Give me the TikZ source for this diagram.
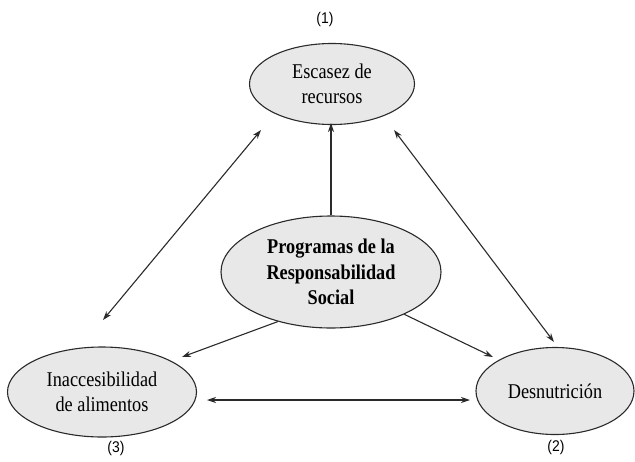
\documentclass[tikz,border=0pt]{standalone}
\usepackage{fontspec}
\usetikzlibrary{shapes.geometric,arrows.meta}
\newfontfamily\boxfont{Liberation Serif}[FakeStretch=0.87]
\newfontfamily\numfont{Liberation Sans}[FakeStretch=0.9]
\definecolor{bubblefill}{HTML}{E8E8E8}
\definecolor{inkline}{HTML}{2A2A2A}
\tikzset{
  bubble/.style={ellipse, draw=inkline, line width=1.1pt, fill=bubblefill,
    inner sep=0pt, align=center, text=black,
    font=\boxfont\fontsize{21}{25.5}\selectfont},
  tag/.style={inner sep=0pt, font=\numfont\fontsize{15.5}{17}\selectfont},
  link/.style={draw=inkline, line width=1.1pt,
    arrows={-Stealth[length=9pt,width=6pt]}},
  twoway/.style={draw=inkline, line width=1.1pt,
    arrows={Stealth[length=9pt,width=6pt]-Stealth[length=9pt,width=6pt]}}
}
\begin{document}
\begin{tikzpicture}[x=1pt,y=-1pt]
\useasboundingbox (0,0) rectangle (635,461);

% the four ellipses
\node[bubble, minimum width=165pt, minimum height=81pt] (scarce) at (332,84) {Escasez de\\recursos};
\node[bubble, minimum width=220pt, minimum height=112pt] (csr) at (331,272) {\bfseries Programas de la\\\bfseries Responsabilidad\\\bfseries Social};
\node[bubble, minimum width=189pt, minimum height=90pt] (access) at (102,392) {Inaccesibilidad\\de alimentos};
\node[bubble, minimum width=158pt, minimum height=87pt] (hunger) at (555,391) {Desnutrición};

% numbering
\node[tag] (n1) at (325,19) {(1)};
\node[tag] (n2) at (556,447) {(2)};
\node[tag] (n3) at (116,448) {(3)};

% arrow end points
\coordinate (sA) at (261,130);
\coordinate (aS) at (103,320);
\coordinate (sH) at (394,130);
\coordinate (hS) at (554,342);
\coordinate (aH) at (470,400);
\coordinate (hA) at (207,400);
\coordinate (cS) at (331,123);
\coordinate (cA) at (182,357);
\coordinate (cH) at (493,357);

% connectors
\draw[twoway] (aS) -- (sA);
\draw[twoway] (sH) -- (hS);
\draw[twoway] (hA) -- (aH);
\draw[link] (csr.north) -- (cS);
\draw[link] (csr.223) -- (cA);
\draw[link] (csr.-30) -- (cH);
\end{tikzpicture}
\end{document}
